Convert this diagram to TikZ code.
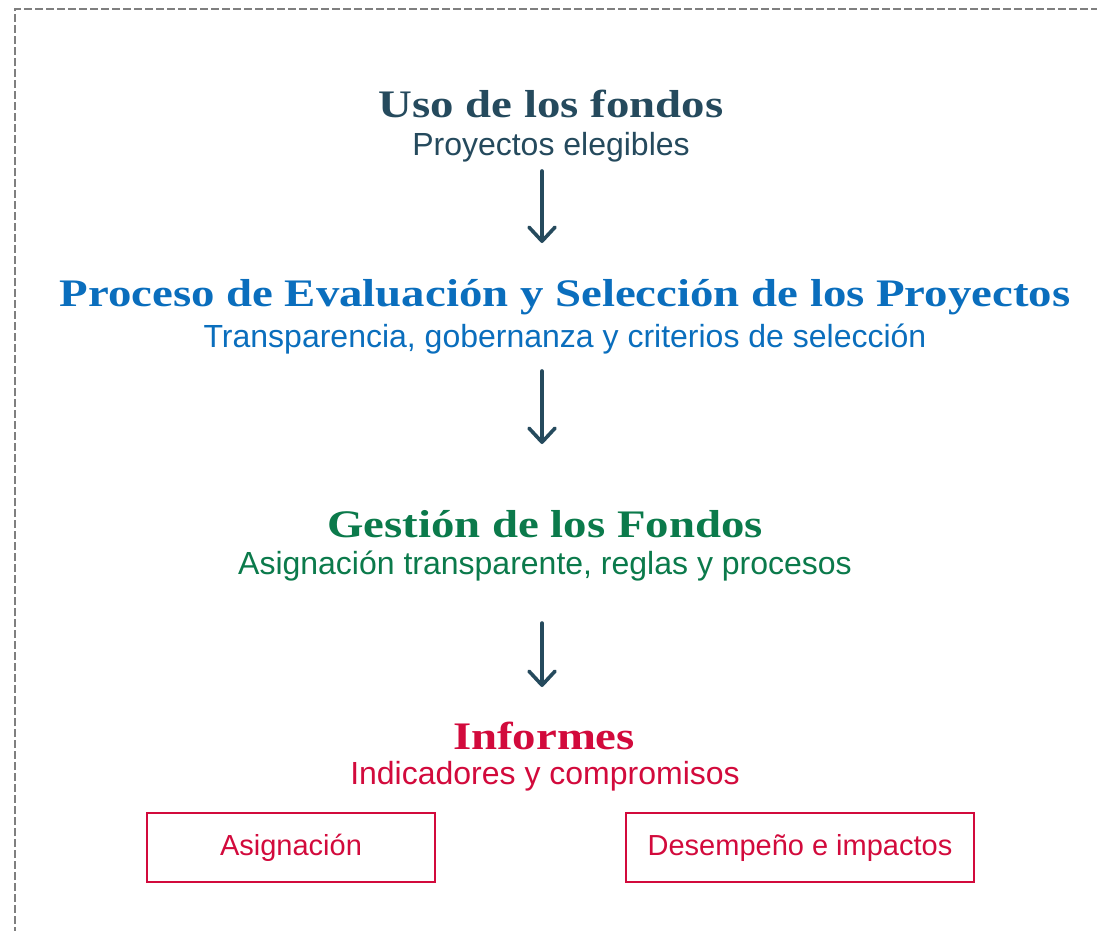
\documentclass[tikz,border=0pt]{standalone}
\usepackage{fontspec}
\setmainfont{Liberation Sans}
\newfontfamily\headfont[FakeStretch=1.2]{Liberation Serif}
\usetikzlibrary{arrows.meta}
\definecolor{slate}{HTML}{254A5D}
\definecolor{procblue}{HTML}{0A6EBD}
\definecolor{fundgreen}{HTML}{0B7A4B}
\definecolor{reportred}{HTML}{D20A3C}
\definecolor{frame}{HTML}{7F7F7F}
\begin{document}
\begin{tikzpicture}[x=1pt,y=-1pt,
    heading/.style={anchor=base, inner sep=0pt, font=\headfont\bfseries\fontsize{39}{44}\selectfont},
    subline/.style={anchor=base, inner sep=0pt, font=\fontsize{32}{36}\selectfont},
    flow/.style={slate, line width=3.6pt, line cap=round, line join=round, -{Straight Barb[length=14pt,width=26pt,line width=3.6pt,round]}},
    outbox/.style={draw=reportred, line width=1.8pt, text=reportred, minimum height=69pt, inner sep=0pt, font=\fontsize{29}{32}\selectfont}]
    \useasboundingbox (0,0) rectangle (1097,930);
    \draw[frame, line width=2.4pt, dash pattern=on 8pt off 3pt] (15,935) -- (15,9) -- (1100,9);

    \node[heading, text=slate](uso) at (551,117){Uso de los fondos};
    \node[subline, text=slate](uso_sub) at (551,155){Proyectos elegibles};

    \node[heading, text=procblue](proceso) at (565,306){Proceso de Evaluación y Selección de los Proyectos};
    \node[subline, text=procblue](proceso_sub) at (565,347){Transparencia, gobernanza y criterios de selección};

    \node[heading, text=fundgreen](gestion) at (545,537){Gestión de los Fondos};
    \node[subline, text=fundgreen](gestion_sub) at (545,574){Asignación transparente, reglas y procesos};

    \node[heading, text=reportred](informes) at (544,749){Informes};
    \node[subline, text=reportred](informes_sub) at (545,784){Indicadores y compromisos};

    \node[outbox, minimum width=288pt](asig) at (291,847.5){Asignación};
    \node[outbox, minimum width=348pt](desemp) at (800,847.5){Desempeño e impactos};

    \coordinate (f1_a) at (542,171);
    \coordinate (f1_b) at (542,243);
    \coordinate (f2_a) at (542,371);
    \coordinate (f2_b) at (542,444);
    \coordinate (f3_a) at (542,623);
    \coordinate (f3_b) at (542,687);

    \draw[flow](f1_a)--(f1_b);
    \draw[flow](f2_a)--(f2_b);
    \draw[flow](f3_a)--(f3_b);
\end{tikzpicture}
\end{document}
